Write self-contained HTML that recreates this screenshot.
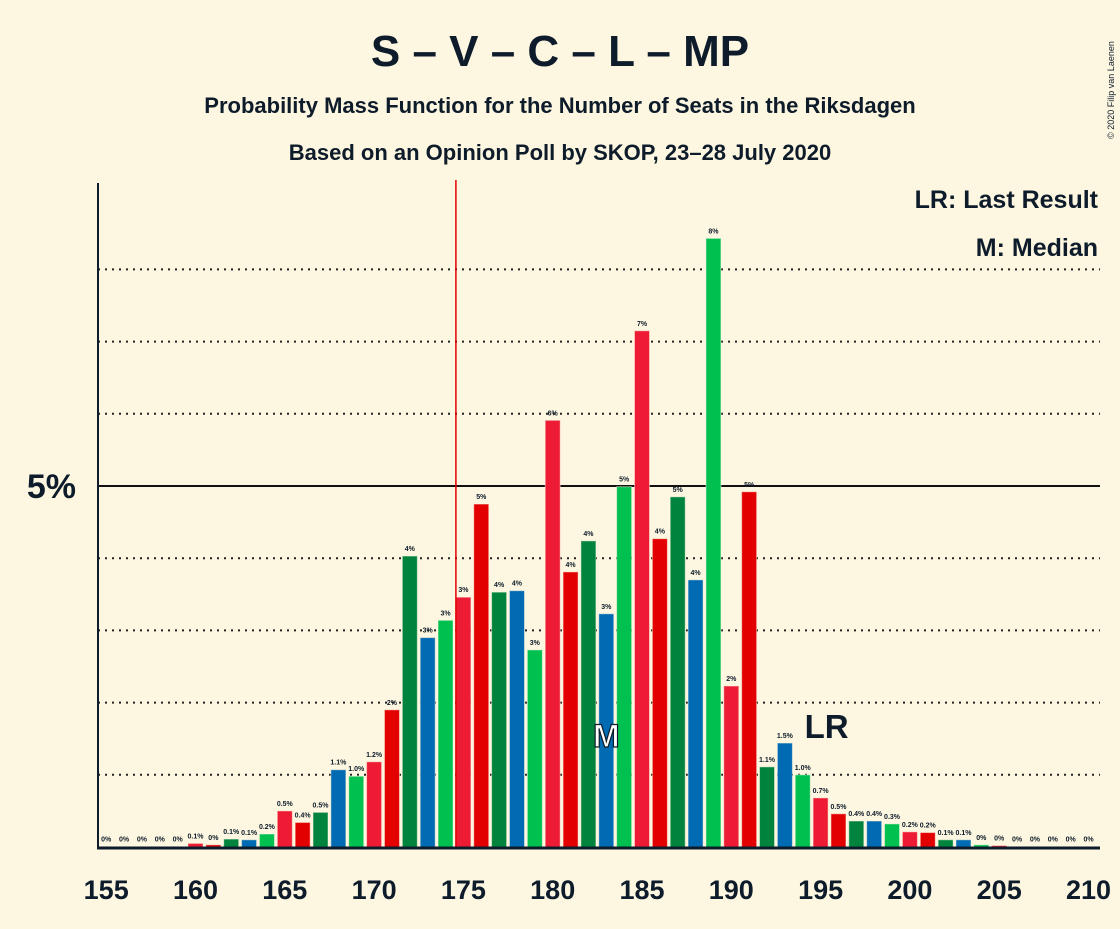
<!DOCTYPE html>
<html><head><meta charset="utf-8"><style>
body{margin:0;background:#fdf7e1;font-family:"Liberation Sans",sans-serif;}
svg text{font-family:"Liberation Sans",sans-serif;font-weight:bold;fill:#0d1b2a;}
</style></head><body>
<svg id="c" width="1120" height="924" xmlns="http://www.w3.org/2000/svg">
<rect width="1120" height="924" fill="#fdf7e1"/>
<text x="560" y="66" font-size="44" text-anchor="middle">S – V – C – L – MP</text>
<text x="560" y="113" font-size="22" text-anchor="middle">Probability Mass Function for the Number of Seats in the Riksdagen</text>
<text x="560" y="160" font-size="22" text-anchor="middle">Based on an Opinion Poll by SKOP, 23–28 July 2020</text>
<text x="1098" y="208" font-size="25" text-anchor="end">LR: Last Result</text>
<text x="1098" y="256" font-size="25" text-anchor="end">M: Median</text>
<text x="1114" y="90" font-size="9" transform="rotate(-90 1114 90)" text-anchor="middle" style="font-weight:normal">© 2020 Filip van Laenen</text>
<g id="grid"></g><g id="bars"></g><g id="axes"></g>
</svg>
<script>
const seats=[155,156,157,158,159,160,161,162,163,164,165,166,167,168,169,170,171,172,173,174,175,176,177,178,179,180,181,182,183,184,185,186,187,188,189,190,191,192,193,194,195,196,197,198,199,200,201,202,203,204,205,206,207,208,209,210];
const probs=[0.005,0.005,0.005,0.005,0.005,0.05,0.03,0.11,0.1,0.18,0.5,0.34,0.48,1.07,0.98,1.18,1.9,4.03,2.9,3.14,3.46,4.75,3.53,3.55,2.73,5.91,3.81,4.24,3.23,4.99,7.15,4.27,4.85,3.7,8.43,2.23,4.92,1.11,1.44,1.0,0.68,0.46,0.36,0.36,0.32,0.21,0.2,0.1,0.1,0.03,0.02,0.005,0.005,0.005,0.005,0.005];
const labels=["0%","0%","0%","0%","0%","0.1%","0%","0.1%","0.1%","0.2%","0.5%","0.4%","0.5%","1.1%","1.0%","1.2%","2%","4%","3%","3%","3%","5%","4%","4%","3%","6%","4%","4%","3%","5%","7%","4%","5%","4%","8%","2%","5%","1.1%","1.5%","1.0%","0.7%","0.5%","0.4%","0.4%","0.3%","0.2%","0.2%","0.1%","0.1%","0%","0%","0%","0%","0%","0%","0%"];
const xTicks=[155,160,165,170,175,180,185,190,195,200,205,210];
const gridLevels=[1,2,3,4,6,7,8];
const majority=175, median=183, lastResult=195;
const colors=["#ed1b34","#e30000","#00843d","#006ab3","#00c050"];
const NS="http://www.w3.org/2000/svg";
const X=s=>195.5+(s-160)*17.86;
const Y=p=>847-p*72.2;
function mk(t,a,parent,txt){const e=document.createElementNS(NS,t);for(const k in a)e.setAttribute(k,a[k]);if(txt!==undefined)e.textContent=txt;parent.appendChild(e);return e;}
const grid=document.getElementById('grid'),bars=document.getElementById('bars'),axes=document.getElementById('axes');
gridLevels.forEach(g=>{const l=mk('line',{x1:98,x2:1100,y1:Y(g),y2:Y(g),stroke:'#222','stroke-width':2,'stroke-dasharray':'2 5'},grid);

});
const l5=mk('line',{x1:98,x2:1100,y1:Y(5),y2:Y(5),stroke:'#111','stroke-width':2},grid);


seats.forEach((s,i)=>{const h=Math.max(847-Y(probs[i]),0.5);
const r=mk('rect',{x:X(s)-7.5,y:847-h,width:15,height:h,fill:colors[(s-155)%5],stroke:'#fdf7e1','stroke-opacity':0.5,'stroke-width':1},bars);


const t=mk('text',{x:X(s),y:847-h-5,'font-size':7,'text-anchor':'middle'},bars,labels[i]);

});
const ml=mk('line',{x1:X(majority)-7.5,x2:X(majority)-7.5,y1:180,y2:847,stroke:'#e30000','stroke-width':1.5},axes);


const mt=mk('text',{x:X(median),y:747,'font-size':32,'text-anchor':'middle',style:'fill:#ffffff;stroke:#0d1b2a;stroke-width:1.2'},axes,'M');


const lr=mk('text',{x:X(lastResult)-16,y:738,'font-size':33,'text-anchor':'start'},axes,'LR');


const ya=mk('line',{x1:98,x2:98,y1:183,y2:848,stroke:'#0d1b2a','stroke-width':2},axes);


const xa=mk('line',{x1:97,x2:1100,y1:848,y2:848,stroke:'#0d1b2a','stroke-width':3},axes);


const yl=mk('text',{x:76,y:498,'font-size':34,'text-anchor':'end'},axes,'5%');


xTicks.forEach(s=>{const t=mk('text',{x:X(s),y:899,'font-size':27,'text-anchor':'middle'},axes,String(s));

});
</script>
</body></html>
